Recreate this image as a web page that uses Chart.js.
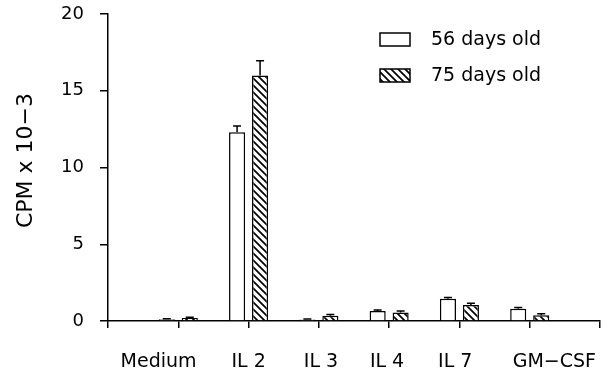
<!DOCTYPE html>
<html>
<head>
<meta charset="utf-8">
<script src="https://cdn.jsdelivr.net/npm/chart.js@4"></script>
<style>
html,body{margin:0;padding:0;background:#fff;}
#wrap{width:608px;height:372px;position:relative;}
</style>
</head>
<body>
<div id="wrap"><canvas id="c" width="608" height="372"></canvas></div>
<script>
// ---- data ----
const categories = ['Medium', 'IL 2', 'IL 3', 'IL 4', 'IL 7', 'GM\u2212CSF'];
const categoryPos = [1, 2, 3, 4, 5, 6];
const labelPos = [0.72, 2.0, 3.03, 3.97, 4.94, 6.35];
const seriesNames = ['56 days old', '75 days old'];
const values56 = [0.12, 12.3, 0.1, 0.65, 1.45, 0.8];
const errors56 = [0.03, 0.4, 0.03, 0.06, 0.08, 0.08];
const values75 = [0.2, 16.0, 0.35, 0.55, 1.05, 0.37];
const errors75 = [0.05, 0.95, 0.08, 0.1, 0.1, 0.1];
const yTicks = [0, 5, 10, 15, 20];

const FONT = 'DejaVu Sans';

function hatch() {
  const s = 7;
  const c = document.createElement('canvas');
  c.width = s; c.height = s;
  const g = c.getContext('2d');
  g.fillStyle = '#fff';
  g.fillRect(0, 0, s, s);
  g.strokeStyle = '#000';
  g.lineWidth = 1.7;
  g.beginPath();
  g.moveTo(-1, -1); g.lineTo(s + 1, s + 1);
  g.moveTo(-1, s - 1); g.lineTo(1, s + 1);
  g.moveTo(s - 1, -1); g.lineTo(s + 1, 1);
  g.stroke();
  return document.getElementById('c').getContext('2d').createPattern(c, 'repeat');
}
const pattern = hatch();

const errorBars = {
  id: 'errorBars',
  afterDatasetsDraw(chart) {
    const ctx = chart.ctx;
    const ys = chart.scales.y;
    ctx.save();
    ctx.strokeStyle = '#000';
    ctx.lineWidth = 1.5;
    chart.data.datasets.forEach((ds, di) => {
      const meta = chart.getDatasetMeta(di);
      meta.data.forEach((bar, i) => {
        const v = ds.data[i].y, e = ds.errors[i];
        const top = ys.getPixelForValue(v + e);
        const yb = ys.getPixelForValue(v);
        ctx.beginPath();
        ctx.moveTo(bar.x, yb);
        ctx.lineTo(bar.x, top);
        ctx.moveTo(bar.x - 4, top);
        ctx.lineTo(bar.x + 4, top);
        ctx.stroke();
      });
    });
    ctx.restore();
  }
};

const customLegend = {
  id: 'customLegend',
  afterDraw(chart, args, opts) {
    const ctx = chart.ctx;
    ctx.save();
    ctx.font = '19px "' + FONT + '"';
    ctx.textBaseline = 'middle';
    ctx.fillStyle = '#000';
    chart.data.datasets.forEach((ds, i) => {
      const x = opts.x, y = opts.y + i * opts.gap;
      ctx.fillStyle = ds.backgroundColor;
      ctx.fillRect(x, y, 30, 13);
      ctx.strokeStyle = '#000';
      ctx.lineWidth = 1.5;
      ctx.strokeRect(x, y, 30, 13);
      ctx.fillStyle = '#000';
      ctx.fillText(ds.label, opts.textX, y + 7);
    });
    ctx.restore();
  }
};

const barStyle = {
  borderColor: '#000',
  borderWidth: 1.5,
  borderSkipped: 'bottom',
  categoryPercentage: 0.654,
  barPercentage: 0.7
};

function noPad(s) {
  s.paddingTop = 0; s.paddingBottom = 0; s.paddingLeft = 0; s.paddingRight = 0;
}

new Chart(document.getElementById('c'), {
  type: 'bar',
  data: {
    datasets: [
      Object.assign({
        label: seriesNames[0],
        data: categoryPos.map((x, i) => ({ x, y: values56[i] })),
        errors: errors56,
        backgroundColor: '#ffffff'
      }, barStyle),
      Object.assign({
        label: seriesNames[1],
        data: categoryPos.map((x, i) => ({ x, y: values75[i] })),
        errors: errors75,
        backgroundColor: pattern
      }, barStyle)
    ]
  },
  options: {
    responsive: false,
    animation: false,
    events: [],
    layout: { padding: { top: 14, right: 8, left: 0, bottom: 0 } },
    plugins: {
      legend: { display: false },
      tooltip: { enabled: false },
      customLegend: { x: 380, y: 33, gap: 36, textX: 431 }
    },
    scales: {
      x: {
        type: 'linear',
        min: 0, max: 7,
        offset: false,
        position: 'bottom',
        ticks: { stepSize: 1, display: false },
        grid: { offset: false, drawOnChartArea: false, tickLength: 7, color: '#000', lineWidth: 1.5 },
        border: { color: '#000', width: 1.5 },
        afterFit(s) { s.height = 10; noPad(s); }
      },
      x2: {
        type: 'linear',
        min: 0, max: 7,
        offset: false,
        position: 'bottom',
        grid: { display: false, drawTicks: false, offset: false },
        border: { display: false },
        afterBuildTicks(s) { s.ticks = labelPos.map(v => ({ value: v })); },
        ticks: {
          autoSkip: false, maxRotation: 0, padding: 20,
          color: '#000',
          font: { family: FONT, size: 19 },
          callback: (v, i) => categories[i]
        },
        afterFit(s) { s.height = 41; noPad(s); }
      },
      y: {
        min: 0, max: 20,
        afterBuildTicks(s) { s.ticks = yTicks.map(v => ({ value: v })); },
        ticks: { color: '#000', padding: 16, font: { family: FONT, size: 18 } },
        grid: { drawOnChartArea: false, tickLength: 8, color: '#000', lineWidth: 1.5 },
        border: { color: '#000', width: 1.5 },
        title: {
          display: true, text: '  CPM x 10\u22123', color: '#000',
          font: { family: FONT, size: 22 }, padding: { top: 13, bottom: 0 }
        },
        afterFit(s) { s.width = 108; noPad(s); }
      }
    }
  },
  plugins: [errorBars, customLegend]
});
</script>
</body>
</html>
